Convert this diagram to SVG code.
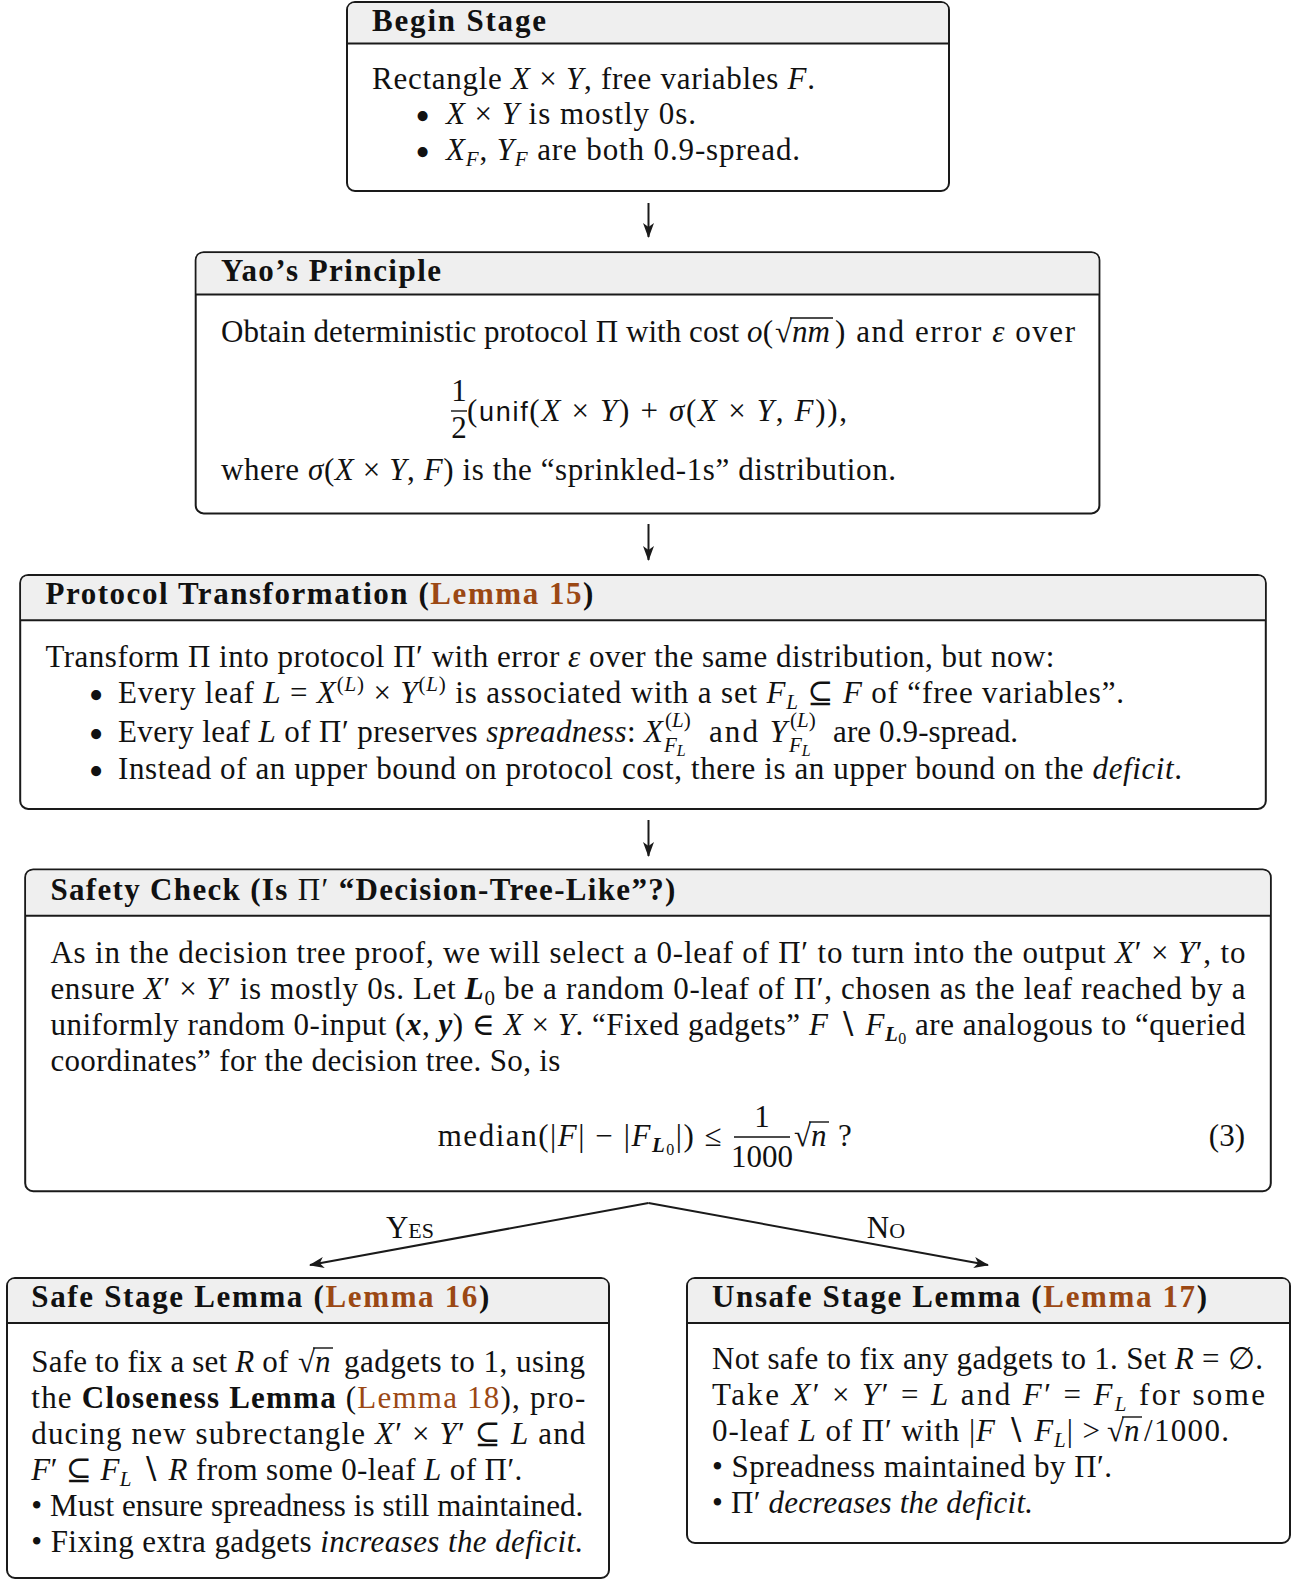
<svg xmlns="http://www.w3.org/2000/svg" width="1293" height="1581" viewBox="0 0 1293 1581">
<style>
.t{font-family:"Liberation Serif","DejaVu Serif",serif;font-size:31px;fill:#111}
.h{font-weight:bold}
.i{font-style:italic}
.bi{font-style:italic;font-weight:bold}
.lk{fill:#9b4814}
.sub{font-size:21px}
.ss{font-size:16px}
.sf{font-family:"Liberation Sans","DejaVu Sans",sans-serif;font-size:27px}
.sc{font-variant:small-caps}
.bul{font-size:42px}
.box{fill:#fff;stroke:#1a1a1a;stroke-width:2}
.hd{fill:#efefef}
.sep{stroke:#1a1a1a;stroke-width:2}
.rule{stroke:#111;stroke-width:1.4}
.edge{stroke:#1a1a1a;stroke-width:2;fill:none;marker-end:url(#ah)}
</style>
<defs>
<marker id="ah" viewBox="0 0 15 11" refX="14" refY="5.5" markerWidth="15" markerHeight="11" markerUnits="userSpaceOnUse" orient="auto">
<path d="M0,0 L15,5.5 L0,11 L4,5.5 Z" fill="#1a1a1a"/>
</marker>
</defs>

<g id="connectors">
<line class="edge" x1="648.5" y1="203" x2="648.5" y2="237"/>
<line class="edge" x1="648.5" y1="524" x2="648.5" y2="560"/>
<line class="edge" x1="648.5" y1="820" x2="648.5" y2="856"/>
<line class="edge" x1="648.5" y1="1203" x2="310" y2="1265"/>
<line class="edge" x1="648.5" y1="1203" x2="988" y2="1265"/>
<text class="t sc" x="410" y="1238" text-anchor="middle">Yes</text>
<text class="t sc" x="886" y="1238" text-anchor="middle">No</text>
</g>

<g id="begin">
<rect class="box" x="347" y="2" width="602" height="189" rx="8"/>
<path class="hd" d="M348,43.4 V10 Q348,3 355,3 H941 Q948,3 948,10 V43.4 Z"/>
<line class="sep" x1="347" y1="43.4" x2="949" y2="43.4"/>
<text class="t h" x="372" y="31" textLength="174">Begin Stage</text>
<text class="t" x="372" y="89" textLength="443">Rectangle <tspan class="i">X</tspan> × <tspan class="i">Y</tspan>, free variables <tspan class="i">F</tspan>.</text>
<text class="t bul" x="422.6" y="130" text-anchor="middle">•</text>
<text class="t" x="446" y="124" textLength="250"><tspan class="i">X</tspan> × <tspan class="i">Y</tspan> is mostly 0s.</text>
<text class="t bul" x="422.6" y="166" text-anchor="middle">•</text>
<text class="t" x="446" y="160" textLength="354"><tspan class="i">X</tspan><tspan class="i sub" dy="6">F</tspan><tspan dy="-6">, </tspan><tspan class="i">Y</tspan><tspan class="i sub" dy="6">F</tspan><tspan dy="-6"> are both 0.9-spread.</tspan></text>
</g>

<g id="yao">
<rect class="box" x="195.7" y="252.2" width="903.7" height="261.2" rx="8"/>
<path class="hd" d="M196.7,294.5 V260 Q196.7,253.2 203.7,253.2 H1091.4 Q1098.4,253.2 1098.4,260 V294.5 Z"/>
<line class="sep" x1="195.7" y1="294.5" x2="1099.4" y2="294.5"/>
<text class="t h" x="221" y="281" textLength="220">Yao’s Principle</text>
<text class="t" x="221" y="342" textLength="552">Obtain deterministic protocol Π with cost <tspan class="i">o</tspan>(</text>
<text class="t" x="775" y="342">√</text>
<line class="rule" x1="790" y1="318" x2="833" y2="318"/>
<text class="t i" x="792" y="342">nm</text>
<text class="t" x="835" y="342" textLength="240">) and error <tspan class="i">ε</tspan> over</text>
<text class="t" x="459" y="401" text-anchor="middle">1</text>
<line class="rule" x1="451" y1="411" x2="467" y2="411"/>
<text class="t" x="459" y="438" text-anchor="middle">2</text>
<text class="t" x="467" y="421" textLength="380">(<tspan class="sf">unif</tspan>(<tspan class="i">X</tspan> × <tspan class="i">Y</tspan>) + <tspan class="i">σ</tspan>(<tspan class="i">X</tspan> × <tspan class="i">Y</tspan>, <tspan class="i">F</tspan>)),</text>
<text class="t" x="221" y="480" textLength="675">where <tspan class="i">σ</tspan>(<tspan class="i">X</tspan> × <tspan class="i">Y</tspan>, <tspan class="i">F</tspan>) is the “sprinkled-1s” distribution.</text>
</g>

<g id="protocol">
<rect class="box" x="20.2" y="574.9" width="1245.6" height="234" rx="8"/>
<path class="hd" d="M21.2,620.3 V583 Q21.2,575.9 28.2,575.9 H1257.8 Q1264.8,575.9 1264.8,583 V620.3 Z"/>
<line class="sep" x1="20.2" y1="620.3" x2="1265.8" y2="620.3"/>
<text class="t h" x="45.4" y="604" textLength="548">Protocol Transformation (<tspan class="lk">Lemma 15</tspan>)</text>
<text class="t" x="45.4" y="667" textLength="1009">Transform Π into protocol Π′ with error <tspan class="i">ε</tspan> over the same distribution, but now:</text>
<text class="t bul" x="96" y="709" text-anchor="middle">•</text>
<text class="t" x="118" y="703" textLength="1006">Every leaf <tspan class="i">L</tspan> = <tspan class="i">X</tspan><tspan class="sub" dy="-12">(<tspan class="i">L</tspan>)</tspan><tspan dy="12"> × </tspan><tspan class="i">Y</tspan><tspan class="sub" dy="-12">(<tspan class="i">L</tspan>)</tspan><tspan dy="12"> is associated with a set </tspan><tspan class="i">F</tspan><tspan class="i sub" dy="6">L</tspan><tspan dy="-6"> ⊆ </tspan><tspan class="i">F</tspan> of “free variables”.</text>
<text class="t bul" x="96" y="748" text-anchor="middle">•</text>
<text class="t"><tspan x="118" y="742" textLength="545">Every leaf <tspan class="i">L</tspan> of Π′ preserves <tspan class="i">spreadness</tspan>: <tspan class="i">X</tspan></tspan><tspan class="sub" x="665" y="727">(<tspan class="i">L</tspan>)</tspan><tspan class="sub i" x="664" y="752">F</tspan><tspan class="i ss" dy="4">L</tspan><tspan x="709" y="742" textLength="78">and <tspan class="i">Y</tspan></tspan><tspan class="sub" x="790" y="727">(<tspan class="i">L</tspan>)</tspan><tspan class="sub i" x="789" y="752">F</tspan><tspan class="i ss" dy="4">L</tspan><tspan x="833" y="742" textLength="185">are 0.9-spread.</tspan></text>
<text class="t bul" x="96" y="785" text-anchor="middle">•</text>
<text class="t" x="118" y="779" textLength="1064">Instead of an upper bound on protocol cost, there is an upper bound on the <tspan class="i">deficit</tspan>.</text>
</g>

<g id="safety">
<rect class="box" x="25.2" y="869.4" width="1245.6" height="321.8" rx="8"/>
<path class="hd" d="M26.2,915.8 V877.4 Q26.2,870.4 33.2,870.4 H1262.8 Q1269.8,870.4 1269.8,877.4 V915.8 Z"/>
<line class="sep" x1="25.2" y1="915.8" x2="1270.8" y2="915.8"/>
<text class="t h" x="50.4" y="900" textLength="625">Safety Check (Is <tspan font-weight="normal">Π′</tspan> “Decision-Tree-Like”?)</text>
<text class="t" x="50.4" y="963" textLength="1195">As in the decision tree proof, we will select a 0-leaf of Π′ to turn into the output <tspan class="i">X</tspan>′ × <tspan class="i">Y</tspan>′, to</text>
<text class="t" x="50.4" y="999" textLength="1195">ensure <tspan class="i">X</tspan>′ × <tspan class="i">Y</tspan>′ is mostly 0s. Let <tspan class="bi">L</tspan><tspan class="sub" dy="6">0</tspan><tspan dy="-6"> be a random 0-leaf of Π′, chosen as the leaf reached by a</tspan></text>
<text class="t" x="50.4" y="1035" textLength="1195">uniformly random 0-input (<tspan class="bi">x</tspan>, <tspan class="bi">y</tspan>) ∈ <tspan class="i">X</tspan> × <tspan class="i">Y</tspan>. “Fixed gadgets” <tspan class="i">F</tspan> ∖ <tspan class="i">F</tspan><tspan class="bi sub" dy="6">L</tspan><tspan class="ss" dy="3">0</tspan><tspan dy="-9"> are analogous to “queried</tspan></text>
<text class="t" x="50.4" y="1071" textLength="510">coordinates” for the decision tree. So, is</text>
<text class="t" x="437.7" y="1146" textLength="284">median(|<tspan class="i">F</tspan>| − |<tspan class="i">F</tspan><tspan class="bi sub" dy="6">L</tspan><tspan class="ss" dy="3">0</tspan><tspan dy="-9">|) ≤</tspan></text>
<text class="t" x="762" y="1127" text-anchor="middle">1</text>
<line class="rule" x1="734" y1="1137" x2="790" y2="1137"/>
<text class="t" x="762" y="1167" text-anchor="middle">1000</text>
<text class="t" x="794" y="1146">√</text>
<line class="rule" x1="809" y1="1122" x2="829" y2="1122"/>
<text class="t i" x="811" y="1146">n</text>
<text class="t" x="838" y="1146">?</text>
<text class="t" x="1245" y="1146" text-anchor="end">(3)</text>
</g>

<g id="safe">
<rect class="box" x="7" y="1278" width="602" height="300" rx="8"/>
<path class="hd" d="M8,1323 V1286 Q8,1279 15,1279 H601 Q608,1279 608,1286 V1323 Z"/>
<line class="sep" x1="7" y1="1323" x2="609" y2="1323"/>
<text class="t h" x="31.3" y="1307" textLength="458">Safe Stage Lemma (<tspan class="lk">Lemma 16</tspan>)</text>
<text class="t" x="31.3" y="1372" textLength="257">Safe to fix a set <tspan class="i">R</tspan> of</text>
<text class="t" x="298" y="1372">√</text>
<line class="rule" x1="313" y1="1348" x2="333" y2="1348"/>
<text class="t i" x="315" y="1372">n</text>
<text class="t" x="344" y="1372" textLength="241">gadgets to 1, using</text>
<text class="t" x="31.3" y="1408" textLength="554">the <tspan class="h">Closeness Lemma</tspan> (<tspan class="lk">Lemma 18</tspan>), pro-</text>
<text class="t" x="31.3" y="1444" textLength="554">ducing new subrectangle <tspan class="i">X</tspan>′ × <tspan class="i">Y</tspan>′ ⊆ <tspan class="i">L</tspan> and</text>
<text class="t" x="31.3" y="1480" textLength="491"><tspan class="i">F</tspan>′ ⊆ <tspan class="i">F</tspan><tspan class="i sub" dy="6">L</tspan><tspan dy="-6"> ∖ </tspan><tspan class="i">R</tspan> from some 0-leaf <tspan class="i">L</tspan> of Π′.</text>
<text class="t" x="31.3" y="1516" textLength="552">• Must ensure spreadness is still maintained.</text>
<text class="t" x="31.3" y="1552" textLength="552">• Fixing extra gadgets <tspan class="i">increases the deficit.</tspan></text>
</g>

<g id="unsafe">
<rect class="box" x="687" y="1278" width="603" height="265" rx="8"/>
<path class="hd" d="M688,1323 V1286 Q688,1279 695,1279 H1282 Q1289,1279 1289,1286 V1323 Z"/>
<line class="sep" x1="687" y1="1323" x2="1290" y2="1323"/>
<text class="t h" x="712" y="1307" textLength="495">Unsafe Stage Lemma (<tspan class="lk">Lemma 17</tspan>)</text>
<text class="t" x="712" y="1369" textLength="551">Not safe to fix any gadgets to 1. Set <tspan class="i">R</tspan> = ∅.</text>
<text class="t" x="712" y="1405" textLength="553">Take <tspan class="i">X</tspan>′ × <tspan class="i">Y</tspan>′ = <tspan class="i">L</tspan> and <tspan class="i">F</tspan>′ = <tspan class="i">F</tspan><tspan class="i sub" dy="6">L</tspan><tspan dy="-6"> for some</tspan></text>
<text class="t" x="712" y="1441" textLength="388">0-leaf <tspan class="i">L</tspan> of Π′ with |<tspan class="i">F</tspan> ∖ <tspan class="i">F</tspan><tspan class="i sub" dy="6">L</tspan><tspan dy="-6">| &gt;</tspan></text>
<text class="t" x="1107" y="1441">√</text>
<line class="rule" x1="1122" y1="1417" x2="1142" y2="1417"/>
<text class="t i" x="1124" y="1441">n</text>
<text class="t" x="1144" y="1441" textLength="85">/1000.</text>
<text class="t" x="712" y="1477" textLength="400">• Spreadness maintained by Π′.</text>
<text class="t" x="712" y="1513" textLength="321">• Π′ <tspan class="i">decreases the deficit.</tspan></text>
</g>
</svg>
